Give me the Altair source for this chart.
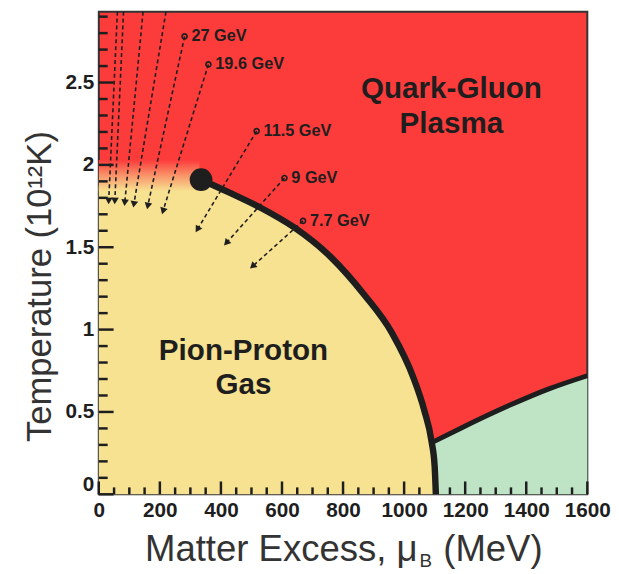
import math
import altair as alt
import pandas as pd

# ---------------- data ----------------
# phase boundary: critical point -> first-order transition line (MeV, 10^12 K)
bound_x = [335, 430, 530, 640, 760, 870, 960, 1030, 1066, 1090, 1100, 1104]
bound_y = [1.91, 1.83, 1.74, 1.62, 1.44, 1.21, 0.98, 0.71, 0.51, 0.32, 0.17, 0.0]

# crossover level of the hadron gas left of the critical point
cross_x = [0, 330]
cross_lo = [1.84, 1.84]
cross_hi = [2.03, 2.03]
gas_top_left = 1.87

# boundary of the (green) high-density phase
green_x = [1097, 1184, 1345, 1474, 1600]
green_y = [0.32, 0.40, 0.54, 0.64, 0.72]

# critical point
crit_x = [335]
crit_y = [1.91]

# beam-energy trajectories (start -> end)
arrow_label = ["", "", "", "", "27 GeV", "19.6 GeV", "11.5 GeV", "9 GeV", "7.7 GeV"]
arrow_x0 = [61, 81, 145, 220, 281, 359, 517, 608, 669]
arrow_y0 = [2.93, 2.93, 2.93, 2.93, 2.78, 2.61, 2.205, 1.92, 1.66]
arrow_x1 = [32, 52, 84, 113, 158, 207, 317, 410, 495]
arrow_y1 = [1.76, 1.76, 1.75, 1.74, 1.73, 1.70, 1.59, 1.51, 1.37]

# region labels
region_text = ["Quark-Gluon", "Plasma", "Pion-Proton", "Gas"]
region_x = [1155, 1155, 474, 474]
region_y = [2.46, 2.25, 0.87, 0.66]

# axis ticks
x_major = [0, 200, 400, 600, 800, 1000, 1200, 1400, 1600]
x_minor = [v for v in range(50, 1600, 50) if v % 200 != 0]
y_major = [0, 0.5, 1, 1.5, 2, 2.5]
y_minor = [round(i / 10, 1) for i in range(1, 30) if i % 5 != 0]

# x-axis title pieces (mu with subscript B)
xtitle_main = "Matter Excess, μ"
xtitle_sub = "B"
xtitle_unit = "(MeV)"

# ---------------- styling ----------------
RED = "#fc3b3b"
YELLOW = "#f7e291"
GREEN = "#bfe4c5"
INK = "#1e1e1e"
FONT = "Liberation Sans"
W, H = 495, 489
XMAX, YMAX = 1600, 2.93
sx, sy = W / XMAX, H / YMAX

xs = alt.Scale(domain=[0, XMAX], nice=False, zero=False)
ys = alt.Scale(domain=[0, YMAX], nice=False, zero=False)
xaxis = alt.Axis(values=x_major, format="d", ticks=False, domain=False, grid=False,
                 labelFont=FONT, labelFontSize=21, labelFontWeight="bold", labelColor=INK,
                 labelPadding=5, labelFlush=False, title="")
yaxis = alt.Axis(values=y_major, format="~g", ticks=False, domain=False, grid=False,
                 labelFont=FONT, labelFontSize=21, labelFontWeight="bold", labelColor=INK,
                 labelPadding=5, labelFlush=True,
                 title="Temperature (10¹²K)", titleFont=FONT, titleFontSize=35,
                 titleFontWeight="normal", titleColor="#333", titlePadding=8, titleY=278)


def X(f="x"):
    return alt.X(f, type="quantitative", scale=xs, axis=xaxis)


def Y(f="y"):
    return alt.Y(f, type="quantitative", scale=ys, axis=yaxis)


def px_to_x(px):          # page pixel -> data x (plot starts at page x = 100)
    return (px - 100) / sx


def py_to_y(py):          # page pixel -> data y (plot bottom at page y = 497)
    return (497 - py) / sy


# ---------------- tables ----------------
gas = pd.DataFrame({"x": [0] + bound_x, "y": [gas_top_left] + bound_y})
bound = pd.DataFrame({"x": bound_x, "y": bound_y})
green = pd.DataFrame({"x": green_x, "y": green_y})
cross = pd.DataFrame({"x": cross_x, "y": cross_hi, "y2": cross_lo})
crit = pd.DataFrame({"x": crit_x, "y": crit_y})

rows, heads, starts = [], [], []
for i, lab in enumerate(arrow_label):
    dxp = (arrow_x1[i] - arrow_x0[i]) * sx
    dyp = -(arrow_y1[i] - arrow_y0[i]) * sy
    L = math.hypot(dxp, dyp)
    ux, uy = dxp / L, dyp / L
    back = 3.5
    hx = arrow_x1[i] - back * ux / sx
    hy = arrow_y1[i] + back * uy / sy
    ang = math.degrees(math.atan2(dxp, -dyp)) % 360
    rows.append({"id": i, "o": 0, "x": arrow_x0[i], "y": arrow_y0[i]})
    rows.append({"id": i, "o": 1, "x": hx, "y": hy})
    heads.append({"x": hx, "y": hy, "angle": ang})
    if lab:
        starts.append({"x": arrow_x0[i], "y": arrow_y0[i], "label": lab})
lines = pd.DataFrame(rows)
heads = pd.DataFrame(heads)
starts = pd.DataFrame(starts)
regions = pd.DataFrame({"x": region_x, "y": region_y, "t": region_text})

# inward tick marks (lengths in pixels converted to data units)
ytk_rows = [{"x": 0.0, "x2": 15 / sx, "y": v} for v in y_major] + \
           [{"x": 0.0, "x2": 9 / sx, "y": v} for v in y_minor]
xtk_rows = [{"x": v, "y": 0.0, "y2": 13 / sy} for v in x_major] + \
           [{"x": v, "y": 0.0, "y2": 7 / sy} for v in x_minor]
ytk = pd.DataFrame(ytk_rows)
xtk = pd.DataFrame(xtk_rows)

t_main = pd.DataFrame({"x": [px_to_x(423)], "y": [py_to_y(565)], "t": [xtitle_main]})
t_sub = pd.DataFrame({"x": [px_to_x(425)], "y": [py_to_y(571)], "t": [xtitle_sub]})
t_unit = pd.DataFrame({"x": [px_to_x(449)], "y": [py_to_y(565)], "t": [xtitle_unit]})

# ---------------- layers ----------------
green_area = alt.Chart(green).mark_area(color=GREEN, interpolate="monotone").encode(x=X(), y=Y())
gas_area = alt.Chart(gas).mark_area(color=YELLOW, interpolate="monotone").encode(x=X(), y=Y())
cross_band = alt.Chart(cross).mark_area(
    color={"gradient": "linear", "x1": 0, "y1": 0, "x2": 0, "y2": 1,
           "stops": [{"offset": 0, "color": RED},
                     {"offset": 0.5, "color": "#f9946a"},
                     {"offset": 1, "color": YELLOW}]}
).encode(x=X(), y=Y(), y2="y2:Q")
green_line = alt.Chart(green).mark_line(color=INK, strokeWidth=5, interpolate="monotone").encode(x=X(), y=Y())
bound_line = alt.Chart(bound).mark_line(color=INK, strokeWidth=6.5, interpolate="monotone").encode(x=X(), y=Y())

arrow_lines = alt.Chart(lines).mark_line(color=INK, strokeWidth=1.6, strokeDash=[4, 3], clip=True).encode(
    x=X(), y=Y(), detail="id:N", order="o:Q")
arrow_heads = alt.Chart(heads).mark_point(shape="triangle-up", filled=True, color=INK, size=60, opacity=1).encode(
    x=X(), y=Y(), angle=alt.Angle("angle:Q", scale=None))
start_pts = alt.Chart(starts).mark_point(shape="circle", filled=False, color=INK, size=26, strokeWidth=1.6, opacity=1).encode(
    x=X(), y=Y())
start_txt = alt.Chart(starts).mark_text(align="left", baseline="middle", dx=7, font=FONT, fontSize=16.5,
                                        fontWeight="bold", color=INK).encode(x=X(), y=Y(), text="label:N")
crit_pt = alt.Chart(crit).mark_point(shape="circle", filled=True, color=INK, size=530, opacity=1).encode(x=X(), y=Y())
region_txt = alt.Chart(regions).mark_text(align="center", baseline="middle", font=FONT, fontSize=30,
                                          fontWeight="bold", color=INK).encode(x=X(), y=Y(), text="t:N")

ticks_y = alt.Chart(ytk).mark_rule(color=INK, strokeWidth=2.5, opacity=1).encode(x=X(), x2="x2:Q", y=Y())
ticks_x = alt.Chart(xtk).mark_rule(color=INK, strokeWidth=2.5, opacity=1).encode(x=X(), y=Y(), y2="y2:Q")

title_main = alt.Chart(t_main).mark_text(align="right", baseline="alphabetic", font=FONT, fontSize=37,
                                         color="#333").encode(x=X(), y=Y(), text="t:N")
title_sub = alt.Chart(t_sub).mark_text(align="left", baseline="alphabetic", font=FONT, fontSize=19,
                                       color="#333").encode(x=X(), y=Y(), text="t:N")
title_unit = alt.Chart(t_unit).mark_text(align="left", baseline="alphabetic", font=FONT, fontSize=37,
                                         color="#333").encode(x=X(), y=Y(), text="t:N")

chart = alt.layer(
    green_area, gas_area, cross_band, green_line, bound_line,
    arrow_lines, arrow_heads, start_pts, start_txt, crit_pt, region_txt,
    ticks_y, ticks_x, title_main, title_sub, title_unit,
).properties(
    width=W, height=H,
    autosize=alt.AutoSizeParams(type="none"),
    padding={"left": 92, "top": 0, "right": 24, "bottom": 77},
    background="white",
).configure_view(fill=RED, stroke="#333", strokeWidth=2)

chart.save("out.html", embed_options={"renderer": "svg", "actions": False})
